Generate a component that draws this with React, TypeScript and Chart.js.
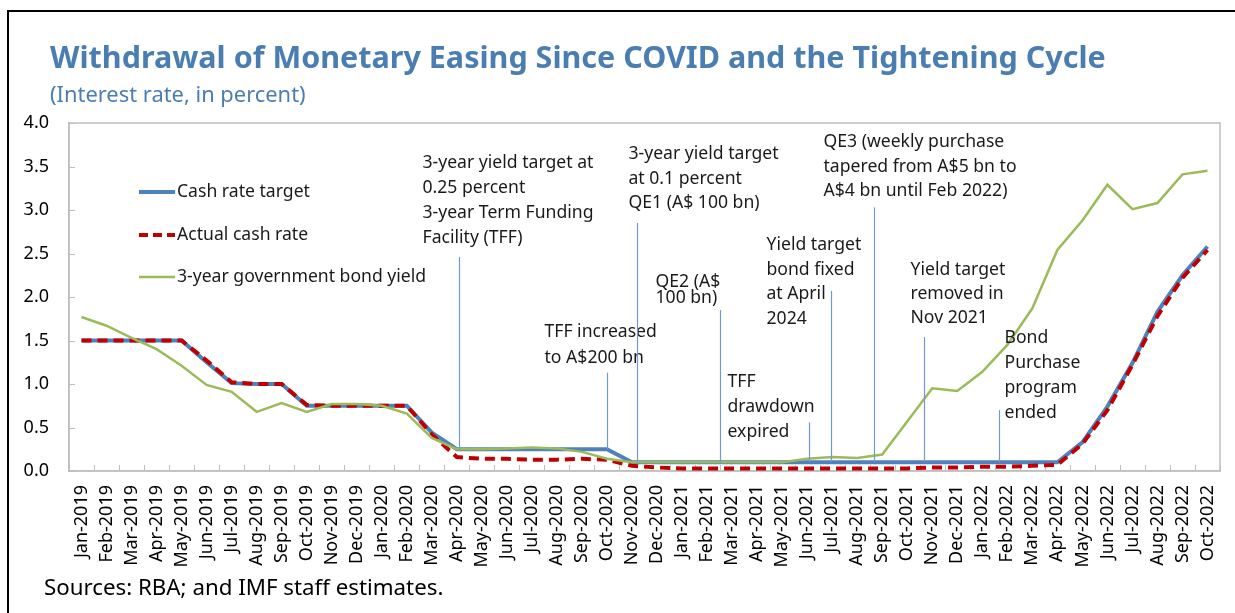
import React, { useEffect, useRef } from 'react';
import { Chart, registerables } from 'chart.js';

Chart.register(...registerables);

const months = [
  'Jan-2019', 'Feb-2019', 'Mar-2019', 'Apr-2019', 'May-2019', 'Jun-2019', 'Jul-2019', 'Aug-2019', 'Sep-2019', 'Oct-2019', 'Nov-2019', 'Dec-2019',
  'Jan-2020', 'Feb-2020', 'Mar-2020', 'Apr-2020', 'May-2020', 'Jun-2020', 'Jul-2020', 'Aug-2020', 'Sep-2020', 'Oct-2020', 'Nov-2020', 'Dec-2020',
  'Jan-2021', 'Feb-2021', 'Mar-2021', 'Apr-2021', 'May-2021', 'Jun-2021', 'Jul-2021', 'Aug-2021', 'Sep-2021', 'Oct-2021', 'Nov-2021', 'Dec-2021',
  'Jan-2022', 'Feb-2022', 'Mar-2022', 'Apr-2022', 'May-2022', 'Jun-2022', 'Jul-2022', 'Aug-2022', 'Sep-2022', 'Oct-2022',
];

const cashRateTarget = [
  1.5, 1.5, 1.5, 1.5, 1.5, 1.25, 1.01, 1.0, 1.0, 0.75, 0.75, 0.75,
  0.75, 0.75, 0.44, 0.25, 0.25, 0.25, 0.25, 0.25, 0.25, 0.25, 0.1, 0.1,
  0.1, 0.1, 0.1, 0.1, 0.1, 0.1, 0.1, 0.1, 0.1, 0.1, 0.1, 0.1,
  0.1, 0.1, 0.1, 0.1, 0.33, 0.74, 1.24, 1.83, 2.25, 2.58,
];

const actualCashRate = [
  1.5, 1.5, 1.5, 1.5, 1.5, 1.27, 1.02, 1.0, 1.0, 0.76, 0.75, 0.75,
  0.75, 0.75, 0.42, 0.16, 0.14, 0.14, 0.13, 0.13, 0.14, 0.13, 0.06, 0.04,
  0.03, 0.03, 0.03, 0.03, 0.03, 0.03, 0.03, 0.03, 0.03, 0.03, 0.04, 0.04,
  0.05, 0.05, 0.06, 0.07, 0.31, 0.7, 1.22, 1.78, 2.22, 2.54,
];

const bondYield3y = [
  1.77, 1.67, 1.53, 1.4, 1.21, 0.99, 0.91, 0.68, 0.78, 0.68, 0.77, 0.77,
  0.75, 0.66, 0.38, 0.25, 0.25, 0.26, 0.27, 0.26, 0.22, 0.14, 0.1, 0.1,
  0.1, 0.1, 0.1, 0.1, 0.1, 0.14, 0.16, 0.15, 0.19, 0.57, 0.95, 0.92,
  1.14, 1.45, 1.87, 2.54, 2.88, 3.29, 3.01, 3.08, 3.41, 3.45,
];

const seriesNames = ['Cash rate target', 'Actual cash rate', '3-year government bond yield'];

const titleText = 'Withdrawal of Monetary Easing Since COVID and the Tightening Cycle';
const subtitleText = '(Interest rate, in percent)';
const sourceText = 'Sources: RBA; and IMF staff estimates.';

// Annotation notes: category position of the marker line, its top/bottom in data units,
// the note's lines of text, and layout for the text block.
const annotationTexts = [
  ['3-year yield target at', '0.25 percent', '3-year Term Funding', 'Facility (TFF)'],
  ['TFF increased', 'to A$200 bn'],
  ['3-year yield target', 'at 0.1 percent', 'QE1 (A$ 100 bn)'],
  ['QE2 (A$', '100 bn)'],
  ['TFF', 'drawdown', 'expired'],
  ['Yield target', 'bond fixed', 'at April', '2024'],
  ['QE3 (weekly purchase', 'tapered from A$5 bn to', 'A$4 bn until Feb 2022)'],
  ['Yield target', 'removed in', 'Nov 2021'],
  ['Bond', 'Purchase', 'program', 'ended'],
];
const annotationPos = [15.1, 21.0, 22.2, 25.5, 29.07, 29.95, 31.67, 33.67, 36.66];
const annotationTop = [2.46, 1.13, 2.85, 1.85, 0.56, 2.07, 3.03, 1.54, 0.7];
const annotationBottom = [0.25, 0.25, 0.1, 0.1, 0.1, 0.1, 0.1, 0.1, 0.1];
const annotationLayout = [
  { dx: -37, textY: 3.54, gap: 25 },
  { dx: -63, textY: 1.6, gap: 26 },
  { dx: -9, textY: 3.64, gap: 24.5 },
  { dx: -65, textY: 2.17, gap: 15.5 },
  { dx: -82, textY: 1.02, gap: 25 },
  { dx: -65, textY: 2.6, gap: 24.7 },
  { dx: -51, textY: 3.78, gap: 24.5 },
  { dx: -14, textY: 2.31, gap: 24 },
  { dx: 5, textY: 1.53, gap: 25 },
];

const FONT = '"Noto Sans", "DejaVu Sans", sans-serif';
const BLUE = '#4f81bd';
const RED = '#c00000';
const GREEN = '#9bbb59';
const TITLE_COLOR = '#4a7eb3';
const AXIS_GRAY = '#bfbfbf';
const NOTE_SIZE = 17.6;

const decorPlugin = {
  id: 'decor',
  beforeDatasetsDraw(chart: any) {
    const { ctx, chartArea: a, scales } = chart;
    const x = scales.x;
    const y = scales.y;
    ctx.save();
    ctx.strokeStyle = AXIS_GRAY;
    ctx.lineWidth = 1.5;
    ctx.strokeRect(a.left, a.top, a.right - a.left, a.bottom - a.top);
    ctx.lineWidth = 1;
    for (let i = 0; i <= months.length; i++) {
      const px = Math.round(x.getPixelForValue(i - 0.5)) + 0.5;
      ctx.beginPath();
      ctx.moveTo(px, a.bottom);
      ctx.lineTo(px, a.bottom - 6);
      ctx.stroke();
    }
    for (let v = 0; v <= 4.0001; v += 0.5) {
      const py = Math.round(y.getPixelForValue(v)) + 0.5;
      ctx.beginPath();
      ctx.moveTo(a.left, py);
      ctx.lineTo(a.left + 6, py);
      ctx.stroke();
    }
    ctx.restore();
  },
  afterDatasetsDraw(chart: any) {
    const { ctx, scales } = chart;
    const x = scales.x;
    const y = scales.y;
    ctx.save();
    // annotations
    annotationTexts.forEach((lines, i) => {
      const px = Math.round(x.getPixelForValue(annotationPos[i])) + 0.5;
      ctx.strokeStyle = '#6f9bd1';
      ctx.lineWidth = 1.2;
      ctx.beginPath();
      ctx.moveTo(px, y.getPixelForValue(annotationTop[i]));
      ctx.lineTo(px, y.getPixelForValue(annotationBottom[i]));
      ctx.stroke();
      const lay = annotationLayout[i];
      ctx.fillStyle = '#1a1a1a';
      ctx.font = `${NOTE_SIZE}px ${FONT}`;
      ctx.textAlign = 'left';
      ctx.textBaseline = 'middle';
      const ty = y.getPixelForValue(lay.textY);
      lines.forEach((t, j) => {
        ctx.fillText(t, px + lay.dx, ty + j * lay.gap);
      });
    });
    // legend
    const legendY = [192, 235, 277];
    const lx0 = 139;
    const lx1 = 175;
    seriesNames.forEach((name, i) => {
      ctx.beginPath();
      if (i === 0) {
        ctx.strokeStyle = BLUE; ctx.lineWidth = 4; ctx.setLineDash([]);
      } else if (i === 1) {
        ctx.strokeStyle = RED; ctx.lineWidth = 4; ctx.setLineDash([9, 5]);
      } else {
        ctx.strokeStyle = GREEN; ctx.lineWidth = 2.5; ctx.setLineDash([]);
      }
      ctx.moveTo(lx0, legendY[i]);
      ctx.lineTo(lx1, legendY[i]);
      ctx.stroke();
      ctx.setLineDash([]);
      ctx.fillStyle = '#1a1a1a';
      ctx.font = `${NOTE_SIZE}px ${FONT}`;
      ctx.textAlign = 'left';
      ctx.textBaseline = 'middle';
      ctx.fillText(name, lx1 + 2, legendY[i]);
    });
    ctx.restore();
  },
};

export default function App() {
  const canvasRef = useRef<HTMLCanvasElement | null>(null);

  useEffect(() => {
    document.body.style.overflow = 'hidden';
    const canvas = canvasRef.current;
    if (!canvas) return;
    const chart = new Chart(canvas, {
      type: 'line',
      data: {
        labels: months,
        datasets: [
          {
            label: seriesNames[0],
            data: cashRateTarget,
            borderColor: BLUE,
            backgroundColor: BLUE,
            borderWidth: 4,
            pointRadius: 0,
            tension: 0,
            order: 3,
          },
          {
            label: seriesNames[1],
            data: actualCashRate,
            borderColor: RED,
            backgroundColor: RED,
            borderWidth: 4,
            borderDash: [10, 6],
            pointRadius: 0,
            tension: 0,
            order: 2,
          },
          {
            label: seriesNames[2],
            data: bondYield3y,
            borderColor: GREEN,
            backgroundColor: GREEN,
            borderWidth: 2.5,
            pointRadius: 0,
            tension: 0,
            order: 1,
          },
        ],
      },
      options: {
        responsive: false,
        animation: false,
        events: [],
        layout: { padding: { left: 0, top: 123, right: 15, bottom: 0 } },
        plugins: {
          legend: { display: false },
          tooltip: { enabled: false },
          title: { display: false },
        },
        scales: {
          x: {
            offset: true,
            grid: { display: false, drawTicks: false, tickLength: 0 },
            border: { display: true, color: AXIS_GRAY, width: 1.5 },
            ticks: {
              autoSkip: false,
              maxRotation: 90,
              minRotation: 90,
              padding: 14,
              color: '#000',
              font: { family: FONT, size: 18 },
            },
            afterFit: (scale: any) => {
              scale.height = 142;
              scale.paddingLeft = 0;
              scale.paddingRight = 0;
            },
          },
          y: {
            min: 0,
            max: 4,
            grid: { display: false, drawTicks: false, tickLength: 0 },
            border: { display: true, color: AXIS_GRAY, width: 1.5 },
            ticks: {
              stepSize: 0.5,
              padding: 20,
              color: '#000',
              font: { family: FONT, size: 18 },
              callback: (v: any) => Number(v).toFixed(1),
            },
            afterFit: (scale: any) => {
              scale.width = 69;
              scale.paddingTop = 0;
              scale.paddingBottom = 0;
            },
          },
        },
      },
      plugins: [decorPlugin],
    });
    return () => chart.destroy();
  }, []);

  return (
    <div style={{ position: 'fixed', left: 0, top: 0, width: 1235, height: 613, background: '#fff', overflow: 'hidden' }}>
      <div style={{ position: 'absolute', left: 7, top: 10, width: 1240, height: 620, borderLeft: '2px solid #000', borderTop: '2px solid #000' }} />
      <canvas ref={canvasRef} width={1235} height={613} style={{ position: 'absolute', left: 0, top: 0 }} />
      <div style={{ position: 'absolute', left: 50, top: 37, fontFamily: FONT, fontWeight: 700, fontSize: 30.5, lineHeight: '38px', color: TITLE_COLOR, whiteSpace: 'nowrap' }}>{titleText}</div>
      <div style={{ position: 'absolute', left: 50, top: 79, fontFamily: FONT, fontSize: 21.9, lineHeight: '30px', color: TITLE_COLOR, whiteSpace: 'nowrap' }}>{subtitleText}</div>
      <div style={{ position: 'absolute', left: 44, top: 572, fontFamily: FONT, fontSize: 22.3, lineHeight: '30px', color: '#000', whiteSpace: 'nowrap' }}>{sourceText}</div>
    </div>
  );
}
